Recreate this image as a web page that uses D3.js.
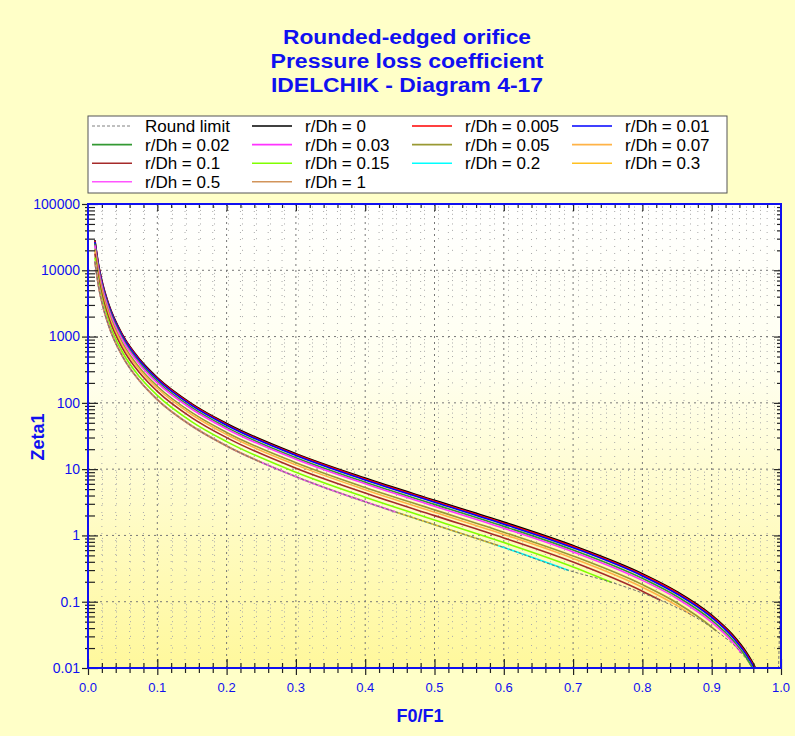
<!DOCTYPE html>
<html>
<head>
<meta charset="utf-8">
<script src="https://cdn.jsdelivr.net/npm/d3@7/dist/d3.min.js"></script>
<style>
  body { margin: 0; background: #ffffc8; }
  text { font-family: Arial, "Liberation Sans", sans-serif; }
</style>
</head>
<body>
<div id="container"></div>
<script>
// chart text
const titleLines = ["Rounded-edged orifice", "Pressure loss coefficient", "IDELCHIK - Diagram 4-17"];
const xTitle = "F0/F1";
const yTitle = "Zeta1";

// axis ticks
const xTicks = [0, 0.1, 0.2, 0.3, 0.4, 0.5, 0.6, 0.7, 0.8, 0.9, 1.0];
const xTickLabels = ["0.0", "0.1", "0.2", "0.3", "0.4", "0.5", "0.6", "0.7", "0.8", "0.9", "1.0"];
const yTicks = [0.01, 0.1, 1, 10, 100, 1000, 10000, 100000];
const yTickLabels = ["0.01", "0.1", "1", "10", "100", "1000", "10000", "100000"];

// series: [F0/F1, Zeta1]
const roundLimit = [[0.01,13500],[0.015,5940],[0.02,3310],[0.03,1442],[0.05,499],[0.075,211],[0.1,112],[0.15,44.7],[0.2,22.4],[0.3,7.70],[0.4,3.22],[0.5,1.45],[0.6,0.659],[0.694,0.296],[0.756,0.195],[0.826,0.105],[0.873,0.0612],[0.907,0.036],[0.943,0.0167],[0.961,0.0091],[0.98,0.0031],[0.995,0.005],[1.0,1.0]];
const rd0 = [[0.01,28620],[0.015,12600],[0.02,7026],[0.03,3065],[0.05,1063],[0.075,450],[0.1,241],[0.15,96.8],[0.2,48.9],[0.3,17.1],[0.4,7.32],[0.5,3.39],[0.6,1.59],[0.7,0.702],[0.8,0.265],[0.85,0.142],[0.9,0.0629],[0.93,0.0319],[0.95,0.0173],[0.96,0.0116],[0.97,0.00697]];
const rd0005 = [[0.01,27780],[0.015,12240],[0.02,6821],[0.03,2976],[0.05,1032],[0.075,437],[0.1,234],[0.15,93.9],[0.2,47.4],[0.3,16.6],[0.4,7.09],[0.5,3.28],[0.6,1.53],[0.7,0.678],[0.8,0.255],[0.85,0.137],[0.9,0.0605],[0.93,0.0306],[0.95,0.0165],[0.96,0.0111],[0.97,0.00666]];
const rd001 = [[0.01,26920],[0.015,11860],[0.02,6608],[0.03,2883],[0.05,1000],[0.075,424],[0.1,227],[0.15,90.9],[0.2,45.9],[0.3,16.05],[0.4,6.85],[0.5,3.17],[0.6,1.48],[0.7,0.653],[0.8,0.245],[0.85,0.131],[0.9,0.0579],[0.93,0.0293],[0.95,0.0158],[0.96,0.0106],[0.97,0.00635]];
const rd002 = [[0.01,25140],[0.015,11070],[0.02,6170],[0.03,2692],[0.05,933],[0.075,395],[0.1,212],[0.15,84.8],[0.2,42.7],[0.3,14.9],[0.4,6.36],[0.5,2.94],[0.6,1.37],[0.7,0.602],[0.8,0.225],[0.85,0.120],[0.9,0.0527],[0.93,0.0266],[0.95,0.0143],[0.961,0.0091]];
const rd003 = [[0.01,23800],[0.015,10480],[0.02,5840],[0.03,2547],[0.05,883],[0.075,374],[0.1,200],[0.15,80.2],[0.2,40.4],[0.3,14.1],[0.4,6.00],[0.5,2.76],[0.6,1.285],[0.7,0.564],[0.8,0.210],[0.85,0.112],[0.9,0.0489],[0.93,0.0246],[0.943,0.0167]];
const rd005 = [[0.01,21190],[0.015,9330],[0.02,5198],[0.03,2267],[0.05,786],[0.075,332],[0.1,178],[0.15,71.1],[0.2,35.8],[0.3,12.5],[0.4,5.29],[0.5,2.43],[0.6,1.12],[0.7,0.490],[0.8,0.181],[0.85,0.0958],[0.9,0.0415],[0.907,0.036]];
const rd007 = [[0.01,19740],[0.015,8690],[0.02,4844],[0.03,2112],[0.05,732],[0.075,310],[0.1,166],[0.15,66.2],[0.2,33.3],[0.3,11.6],[0.4,4.90],[0.5,2.24],[0.6,1.035],[0.7,0.450],[0.8,0.165],[0.85,0.0871],[0.873,0.0612]];
const rd01 = [[0.01,17790],[0.015,7830],[0.02,4364],[0.03,1902],[0.05,659],[0.075,279],[0.1,149],[0.15,59.5],[0.2,29.9],[0.3,10.35],[0.4,4.37],[0.5,1.99],[0.6,0.916],[0.7,0.396],[0.8,0.144],[0.826,0.105]];
const rd015 = [[0.01,15550],[0.015,6840],[0.02,3813],[0.03,1662],[0.05,575],[0.075,243],[0.1,130],[0.15,51.7],[0.2,26.0],[0.3,8.96],[0.4,3.77],[0.5,1.71],[0.6,0.781],[0.7,0.335],[0.756,0.195]];
const rd02 = [[0.01,13500],[0.015,5940],[0.02,3310],[0.03,1442],[0.05,499],[0.075,211],[0.1,112],[0.15,44.7],[0.2,22.4],[0.3,7.70],[0.4,3.22],[0.5,1.45],[0.6,0.659],[0.694,0.296]];
const rd03 = [[0.01,13500],[0.015,5940],[0.02,3310],[0.03,1442],[0.05,499],[0.075,211],[0.1,112],[0.15,44.7],[0.2,22.4],[0.3,7.70],[0.4,3.22],[0.5,1.45],[0.592,0.703]];
const rd05 = [[0.01,13500],[0.015,5940],[0.02,3310],[0.03,1442],[0.05,499],[0.075,211],[0.1,112],[0.15,44.7],[0.2,22.4],[0.3,7.70],[0.4,3.22],[0.444,2.26]];
const rd1 = [[0.01,13500],[0.015,5940],[0.02,3310],[0.03,1442],[0.05,499],[0.075,211],[0.1,112],[0.15,44.7],[0.2,22.4],[0.25,12.7]];

const seriesNames = ["Round limit", "r/Dh = 0", "r/Dh = 0.005", "r/Dh = 0.01", "r/Dh = 0.02", "r/Dh = 0.03", "r/Dh = 0.05", "r/Dh = 0.07", "r/Dh = 0.1", "r/Dh = 0.15", "r/Dh = 0.2", "r/Dh = 0.3", "r/Dh = 0.5", "r/Dh = 1"];
const seriesData = [roundLimit, rd0, rd0005, rd001, rd002, rd003, rd005, rd007, rd01, rd015, rd02, rd03, rd05, rd1];
const seriesColors = ["#808080", "#000000", "#ff0000", "#0000ff", "#339933", "#ff33ff", "#999933", "#ffb347", "#a52a2a", "#80ff00", "#00ffff", "#ffc020", "#ff55ff", "#d2945a"];

const W = 795, H = 736;
const plot = {left: 88, right: 781, top: 204, bottom: 668};
const blue = "#1010f0";

const svg = d3.select("#container").append("svg")
  .attr("width", W).attr("height", H);

const defs = svg.append("defs");
const grad = defs.append("linearGradient")
  .attr("id", "bg").attr("x1", 0).attr("y1", 0).attr("x2", 0).attr("y2", 1);
grad.append("stop").attr("offset", "0%").attr("stop-color", "#ffffff");
grad.append("stop").attr("offset", "35%").attr("stop-color", "#fffff0");
grad.append("stop").attr("offset", "100%").attr("stop-color", "#fff89c");

defs.append("clipPath").attr("id", "clip")
  .append("rect")
  .attr("x", plot.left).attr("y", plot.top)
  .attr("width", plot.right - plot.left).attr("height", plot.bottom - plot.top);

svg.append("rect").attr("width", W).attr("height", H).attr("fill", "#ffffc8");

const x = d3.scaleLinear().domain([0, 1]).range([plot.left, plot.right]);
const y = d3.scaleLog().domain([0.01, 100000]).range([plot.bottom, plot.top]);

// plot background
svg.append("rect")
  .attr("x", plot.left).attr("y", plot.top)
  .attr("width", plot.right - plot.left).attr("height", plot.bottom - plot.top)
  .attr("fill", "url(#bg)");

// title
svg.append("g").selectAll("text")
  .data(titleLines)
  .enter().append("text")
  .attr("x", 407)
  .attr("y", (d, i) => 44 + i * 24)
  .attr("text-anchor", "middle")
  .attr("font-size", 20)
  .attr("font-weight", "bold")
  .attr("fill", blue)
  .attr("textLength", (d, i) => [248, 273, 272][i])
  .attr("lengthAdjust", "spacingAndGlyphs")
  .text(d => d);

// grid
const xMinor = d3.range(1, 50).map(i => i * 0.02).filter((d, i) => (i + 1) % 5 != 0);
const xMajor = xTicks.slice(1, -1);
const yMinor = [];
for (let p = -2; p < 5; p++) {
  for (let k = 2; k <= 9; k++) yMinor.push(k * Math.pow(10, p));
}
const yMajor = yTicks.slice(1, -1);

const grid = svg.append("g").attr("class", "grid");
grid.selectAll(".vminor").data(xMinor).enter().append("line")
  .attr("x1", d => x(d)).attr("x2", d => x(d))
  .attr("y1", plot.top).attr("y2", plot.bottom)
  .attr("stroke", "#aaa").attr("stroke-width", 1).attr("stroke-dasharray", "1,6");
grid.selectAll(".hminor").data(yMinor).enter().append("line")
  .attr("x1", plot.left).attr("x2", plot.right)
  .attr("y1", d => y(d)).attr("y2", d => y(d))
  .attr("stroke", "#aaa").attr("stroke-width", 1).attr("stroke-dasharray", "1,13");
grid.selectAll(".vmajor").data(xMajor).enter().append("line")
  .attr("x1", d => x(d)).attr("x2", d => x(d))
  .attr("y1", plot.top).attr("y2", plot.bottom)
  .attr("stroke", "#777").attr("stroke-width", 1).attr("stroke-dasharray", "2,4");
grid.selectAll(".hmajor").data(yMajor).enter().append("line")
  .attr("x1", plot.left).attr("x2", plot.right)
  .attr("y1", d => y(d)).attr("y2", d => y(d))
  .attr("stroke", "#777").attr("stroke-width", 1).attr("stroke-dasharray", "2,4");

// curves (round limit drawn last, on top)
const line = d3.line()
  .x(d => x(d[0]))
  .y(d => y(Math.max(d[1], 1e-4)))
  .curve(d3.curveMonotoneX);

const order = d3.range(1, seriesData.length).concat([0]);
const curves = svg.append("g").attr("clip-path", "url(#clip)");
curves.selectAll("path")
  .data(order)
  .enter().append("path")
  .attr("d", i => line(seriesData[i]))
  .attr("fill", "none")
  .attr("stroke", i => i == 0 ? "#6e6e6e" : seriesColors[i])
  .attr("stroke-width", i => i == 0 ? 1 : 1.6)
  .attr("stroke-dasharray", i => i == 0 ? "3,2" : null);

// ticks, crossing the axis lines
function crossTicks(g) {
  g.select(".domain").remove();
  g.selectAll(".tick text").remove();
  g.selectAll(".tick line").attr("stroke", "#222").attr("stroke-width", 1.2);
}

const bottomMinor = svg.append("g")
  .attr("transform", "translate(0," + plot.bottom + ")")
  .call(d3.axisBottom(x).tickValues(xMinor).tickSize(5));
crossTicks(bottomMinor);
bottomMinor.selectAll(".tick line").attr("y1", -5);

const bottomMajor = svg.append("g")
  .attr("transform", "translate(0," + plot.bottom + ")")
  .call(d3.axisBottom(x).tickValues(xTicks).tickSize(7));
crossTicks(bottomMajor);
bottomMajor.selectAll(".tick line").attr("y1", -9);

const topTicks = svg.append("g")
  .attr("transform", "translate(0," + plot.top + ")")
  .call(d3.axisBottom(x).tickValues(xMinor).tickSize(4));
crossTicks(topTicks);
const topMajor = svg.append("g")
  .attr("transform", "translate(0," + plot.top + ")")
  .call(d3.axisBottom(x).tickValues(xMajor).tickSize(7));
crossTicks(topMajor);

const leftMinor = svg.append("g")
  .attr("transform", "translate(" + plot.left + ",0)")
  .call(d3.axisLeft(y).tickValues(yMinor).tickSize(3));
crossTicks(leftMinor);
leftMinor.selectAll(".tick line").attr("x1", 7);

const leftMajor = svg.append("g")
  .attr("transform", "translate(" + plot.left + ",0)")
  .call(d3.axisLeft(y).tickValues(yTicks).tickSize(6));
crossTicks(leftMajor);
leftMajor.selectAll(".tick line").attr("x1", 10);

const rightMinor = svg.append("g")
  .attr("transform", "translate(" + plot.right + ",0)")
  .call(d3.axisLeft(y).tickValues(yMinor).tickSize(4));
crossTicks(rightMinor);
const rightMajor = svg.append("g")
  .attr("transform", "translate(" + plot.right + ",0)")
  .call(d3.axisLeft(y).tickValues(yMajor).tickSize(7));
crossTicks(rightMajor);

// frame
svg.append("rect")
  .attr("x", plot.left).attr("y", plot.top)
  .attr("width", plot.right - plot.left).attr("height", plot.bottom - plot.top)
  .attr("fill", "none").attr("stroke", blue).attr("stroke-width", 2);

// tick labels
svg.append("g").selectAll("text")
  .data(xTicks)
  .enter().append("text")
  .attr("x", d => x(d))
  .attr("y", plot.bottom + 24)
  .attr("text-anchor", "middle")
  .attr("font-size", 13)
  .attr("fill", blue)
  .text((d, i) => xTickLabels[i]);

svg.append("g").selectAll("text")
  .data(yTicks)
  .enter().append("text")
  .attr("x", plot.left - 8)
  .attr("y", d => y(d))
  .attr("dy", "0.35em")
  .attr("text-anchor", "end")
  .attr("font-size", 14)
  .attr("fill", blue)
  .text((d, i) => yTickLabels[i]);

// axis titles
svg.append("text")
  .attr("x", 420).attr("y", 722)
  .attr("text-anchor", "middle")
  .attr("font-size", 18).attr("font-weight", "bold")
  .attr("fill", blue)
  .text(xTitle);

svg.append("text")
  .attr("transform", "translate(44,437) rotate(-90)")
  .attr("text-anchor", "middle")
  .attr("font-size", 18).attr("font-weight", "bold")
  .attr("fill", blue)
  .text(yTitle);

// legend
const legend = svg.append("g").attr("class", "legend");
legend.append("rect")
  .attr("x", 88).attr("y", 116).attr("width", 639).attr("height", 77)
  .attr("fill", "#ffffff").attr("stroke", "#555").attr("stroke-width", 1);

const item = legend.selectAll("g.item")
  .data(seriesNames)
  .enter().append("g")
  .attr("class", "item")
  .attr("transform", (d, i) => "translate(" + (92 + (i % 4) * 160) + "," + (126 + Math.floor(i / 4) * 18.6) + ")");

item.append("line")
  .attr("x1", 0).attr("x2", 40)
  .attr("stroke", (d, i) => seriesColors[i])
  .attr("stroke-width", (d, i) => i == 0 ? 1 : 1.6)
  .attr("stroke-dasharray", (d, i) => i == 0 ? "3,2" : null);

item.append("text")
  .attr("x", 53)
  .attr("dy", "0.36em")
  .attr("font-size", 17)
  .attr("fill", "#000")
  .text(d => d);
</script>
</body>
</html>
